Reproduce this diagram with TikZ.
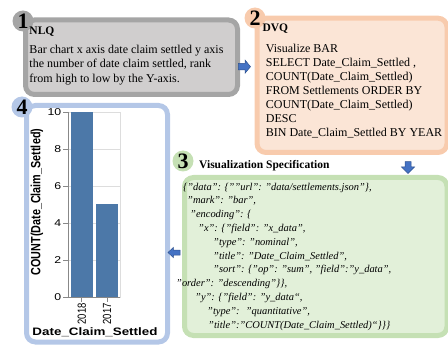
\documentclass[tikz,border=0pt]{standalone}
\usepackage{fontspec}
\setmainfont{Liberation Serif}
\setsansfont{Liberation Sans}
\definecolor{grayB}{HTML}{A5A5A5}
\definecolor{grayF}{HTML}{D0CECE}
\definecolor{orB}{HTML}{F8CBAD}
\definecolor{orF}{HTML}{FBE5D6}
\definecolor{grB}{HTML}{C5E0B4}
\definecolor{grF}{HTML}{E2F0D9}
\definecolor{blB}{HTML}{B4C7E7}
\definecolor{arF}{HTML}{4472C4}
\definecolor{arD}{HTML}{2F528F}
\definecolor{barC}{HTML}{4C78A8}
\definecolor{gridC}{HTML}{DDDDDD}
\definecolor{axC}{HTML}{888888}
\begin{document}
\begin{tikzpicture}[x=1pt,y=-1pt,
  panel/.style={draw, line width=5pt, rounded corners=9pt, inner sep=0pt, anchor=north west},
  numc/.style={circle, inner sep=0pt, minimum size=21pt, font=\fontsize{22}{22}\selectfont\bfseries},
  head/.style={anchor=base west, inner sep=0pt, font=\fontsize{11.5}{14}\selectfont\bfseries},
  txt/.style={anchor=base west, inner sep=0pt, font=\fontsize{12}{14}\selectfont},
  spec/.style={anchor=base west, inner sep=0pt, font=\fontsize{10.45}{13}\selectfont\itshape},
  ticklab/.style={anchor=east, inner sep=0pt, font=\fontsize{9.9}{10}\sffamily},
  xlab/.style={anchor=east, inner sep=0pt, rotate=90, font=\fontsize{9.5}{10}\sffamily},
  axtitle/.style={inner sep=0pt, font=\fontsize{10.8}{11}\sffamily\bfseries},
  blockarrow/.style={fill=arF, draw=arD, line width=0.5pt, line join=miter}
]
\useasboundingbox (0,0) rectangle (448,345);

% panels
\node[panel, draw=grayB, fill=grayF, minimum width=212pt, minimum height=74.5pt] (nlq) at (23,17.5) {};
\node[panel, draw=orB, fill=orF, minimum width=190pt, minimum height=134.3pt] (dvq) at (254.5,15.7) {};
\node[panel, draw=grB, fill=grF, minimum width=262.5pt, minimum height=158pt] (vis) at (182,175) {};
\node[panel, draw=blB, fill=white, minimum width=141pt, minimum height=236.5pt] (chart) at (24,103) {};

% number badges
\node[numc, fill=grayB] (n1) at (23,21) {1};
\node[numc, fill=orB] (n2) at (255,18) {2};
\node[numc, fill=grB] (n3) at (183,161) {3};
\node[numc, fill=blB] (n4) at (22,107) {4};

% NLQ
\node[head] (nlqh) at (29.3,35) {NLQ};
\node[txt] (nlq1) at (29.3,53.5) {Bar chart x axis date claim settled y axis};
\node[txt] (nlq2) at (29.3,68) {the number of date claim settled, rank};
\node[txt] (nlq3) at (29.3,82.5) {from high to low by the Y-axis.};

% DVQ
\node[head] (dvqh) at (262.3,32) {DVQ};
\node[txt] (dvq1) at (265.7,52.5) {Visualize BAR};
\node[txt] (dvq2) at (265.7,66.5) {SELECT Date\_Claim\_Settled ,};
\node[txt] (dvq3) at (265.7,80.5) {COUNT(Date\_Claim\_Settled)};
\node[txt] (dvq4) at (265.7,94.5) {FROM Settlements ORDER BY};
\node[txt] (dvq5) at (265.7,108.5) {COUNT(Date\_Claim\_Settled)};
\node[txt] (dvq6) at (265.7,122.5) {DESC};
\node[txt] (dvq7) at (265.7,136.5) {BIN Date\_Claim\_Settled BY YEAR};

% Visualization specification
\node[head] (vish) at (199,168.3) {Visualization Specification};
\node[spec] (s1) at (183,190) {\{"data": \{""url": "data/settlements.json"\},};
\node[spec] (s2) at (187,203.8) {"mark": "bar",};
\node[spec] (s3) at (190,217.6) {"encoding": \{};
\node[spec] (s4) at (198,231.4) {"x": \{"field": "x\_data",};
\node[spec] (s5) at (213,245.2) {"type": "nominal",};
\node[spec] (s6) at (213,259) {"title": "Date\_Claim\_Settled",};
\node[spec] (s7) at (213,272.8) {"sort": \{"op": "sum", "field":"y\_data",};
\node[spec] (s8) at (176,286.6) {"order": "descending"\}\},};
\node[spec] (s9) at (195,300.4) {"y": \{"field": "y\_data“,};
\node[spec] (s10) at (207,314.2) {"type": \ "quantitative",};
\node[spec] (s11) at (208,328) {"title":"COUNT(Date\_Claim\_Settled)“\}\}\}};

% chart
\draw[gridC, line width=0.6pt] (68,112) rectangle (120,297);
\foreach \yy in {149,186,223,260} \draw[gridC, line width=0.6pt] (68,\yy) -- (120,\yy);
\fill[barC] (70.7,112) rectangle (92.7,297);
\fill[barC] (96,204.5) rectangle (118,297);
\draw[axC, line width=0.7pt] (68,112) -- (68,297) -- (120,297);
\foreach \v/\yy in {0/297,2/260,4/223,6/186,8/149,10/112} {
  \draw[axC, line width=0.7pt] (63,\yy) -- (68,\yy);
  \node[ticklab] (yt\v) at (61.5,\yy) {\scalebox{1.24}[1]{\v}};
}
\draw[axC, line width=0.7pt] (81.7,297) -- (81.7,302);
\draw[axC, line width=0.7pt] (107,297) -- (107,302);
\node[xlab] (xt1) at (81.7,303) {\scalebox{1}[1.24]{2018}};
\node[xlab] (xt2) at (107,303) {\scalebox{1}[1.24]{2017}};
\node[axtitle, rotate=90] (ytitle) at (37,202) {\scalebox{1}[1.24]{COUNT(Date\_Claim\_Settled)}};
\node[axtitle, anchor=base] (xtitle) at (95,335.5) {\scalebox{1.24}[1]{Date\_Claim\_Settled}};

% block arrows
\draw[blockarrow] (238.3,63.3) -- (245,63.3) -- (245,60) -- (250.5,66.7) -- (245,73.3) -- (245,70) -- (238.3,70) -- cycle;
\draw[blockarrow] (405,161.7) -- (411,161.7) -- (411,167) -- (414.5,167) -- (408,173.5) -- (401.5,167) -- (405,167) -- cycle;
\draw[blockarrow] (180,250) -- (173.3,250) -- (173.3,247.5) -- (168,252.5) -- (173.3,257.5) -- (173.3,255) -- (180,255) -- cycle;
\end{tikzpicture}
\end{document}
